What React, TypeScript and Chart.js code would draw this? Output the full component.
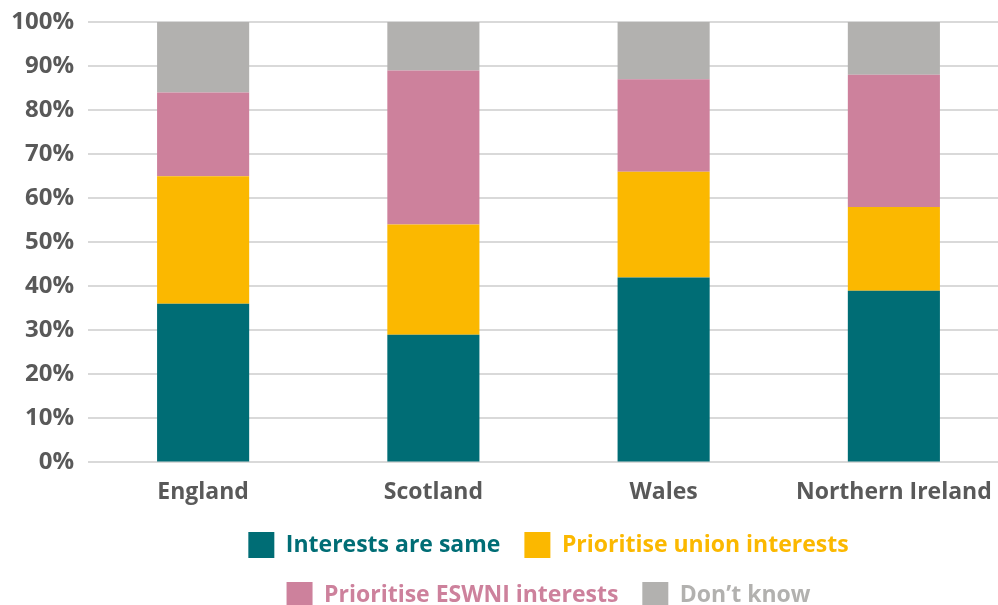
import React, { useEffect, useRef } from "react";
import { Chart, registerables } from "chart.js";

Chart.register(...registerables);

const categories = ["England", "Scotland", "Wales", "Northern Ireland"];
const seriesNames = [
  "Interests are same",
  "Prioritise union interests",
  "Prioritise ESWNI interests",
  "Don\u2019t know",
];
const interestsSame = [36, 29, 42, 39];
const prioritiseUnion = [29, 25, 24, 19];
const prioritiseESWNI = [19, 35, 21, 30];
const dontKnow = [16, 11, 13, 12];
const yTicks = [0, 10, 20, 30, 40, 50, 60, 70, 80, 90, 100];

const colors = ["#006D75", "#FBB800", "#CD819C", "#B2B1AF"];
const FONT = "'Open Sans', sans-serif";
const TEXT = "#595959";

export default function App() {
  const ref = useRef<HTMLCanvasElement | null>(null);

  useEffect(() => {
    if (!ref.current) return;
    const values = [interestsSame, prioritiseUnion, prioritiseESWNI, dontKnow];
    const chart = new Chart(ref.current, {
      type: "bar",
      data: {
        labels: categories,
        datasets: seriesNames.map((name, i) => ({
          label: name,
          data: values[i],
          backgroundColor: colors[i],
          borderWidth: 0,
          barPercentage: 0.4,
          categoryPercentage: 1.0,
        })),
      },
      options: {
        responsive: false,
        animation: false,
        devicePixelRatio: 1,
        layout: { padding: { top: 22, right: 3, left: 0, bottom: 0 } },
        plugins: {
          tooltip: { enabled: false },
          legend: {
            position: "bottom",
            fullSize: false,
            labels: {
              boxWidth: 26,
              boxHeight: 26,
              padding: 24,
              font: { family: FONT, size: 23, weight: "bold" },
              generateLabels: (c: any) =>
                c.data.datasets.map((ds: any, i: number) => ({
                  text: ds.label,
                  fillStyle: colors[i],
                  strokeStyle: colors[i],
                  lineWidth: 0,
                  fontColor: colors[i],
                  hidden: false,
                  datasetIndex: i,
                })),
            },
          },
        },
        scales: {
          x: {
            stacked: true,
            grid: { display: false },
            border: { display: false },
            afterFit: (scale: any) => {
              scale.height = scale.height - 6;
            },
            ticks: {
              color: TEXT,
              padding: 8,
              font: { family: FONT, size: 23, weight: "bold" },
            },
          },
          y: {
            stacked: true,
            min: 0,
            max: 100,
            afterFit: (scale: any) => {
              scale.width = 88;
              scale.paddingTop = 0;
              scale.paddingBottom = 0;
            },
            afterBuildTicks: (scale: any) => {
              scale.ticks = yTicks.map((v) => ({ value: v }));
            },
            grid: { color: "#D9D9D9", lineWidth: 2, drawTicks: false },
            border: { display: false },
            ticks: {
              color: TEXT,
              padding: 14,
              font: { family: FONT, size: 24, weight: "bold" },
              callback: (v: any) => v + "%",
            },
          },
        },
      },
    });
    return () => chart.destroy();
  }, []);

  return (
    <div
      style={{
        position: "absolute",
        left: 0,
        top: 0,
        width: 998,
        height: 605,
        overflow: "hidden",
        background: "#fff",
      }}
    >
      <canvas ref={ref} width={1012} height={618} style={{ display: "block" }} />
    </div>
  );
}
